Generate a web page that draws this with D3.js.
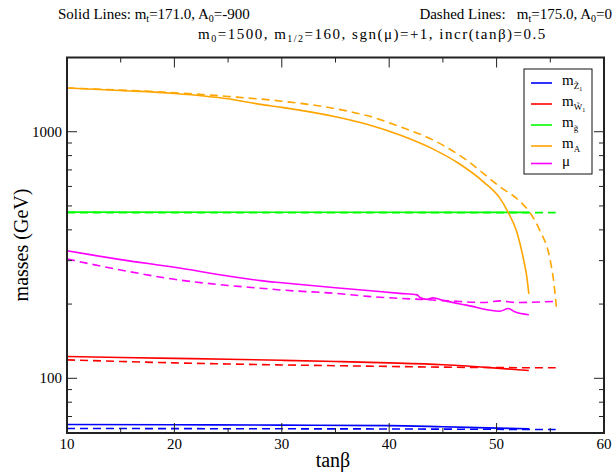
<!DOCTYPE html>
<html>
<head>
<meta charset="utf-8">
<script src="https://cdn.jsdelivr.net/npm/d3@7"></script>
<style>
  body { margin: 0; background: #fff; }
  svg { display: block; }
</style>
</head>
<body>
<div id="chart"></div>
<script>
// tanβ sample points and masses (GeV)
const z1SolidX = [10, 20, 30, 40, 45, 50, 53]
const z1SolidY = [65, 64.8, 64.6, 64.3, 63.6, 62.8, 62.4]
const z1DashX = [10, 20, 30, 40, 50, 55.5]
const z1DashY = [62.6, 62.5, 62.4, 62.3, 62.1, 62.0]

const w1SolidX = [10, 15, 20, 25, 30, 35, 40, 45, 50, 53]
const w1SolidY = [122.5, 121.5, 120.5, 119.5, 118.3, 117, 115.5, 113.5, 110, 107.5]
const w1DashX = [10, 15, 20, 25, 30, 35, 40, 45, 50, 55.5]
const w1DashY = [118.8, 117, 115.5, 114.3, 113.3, 112.5, 111.7, 111, 110.5, 110.3]

const glSolidX = [10, 30, 53]
const glSolidY = [472, 471.5, 471]
const glDashX = [10, 30, 55.5]
const glDashY = [470, 470, 470]

const mASolidX = [10, 15, 20, 25, 28, 30, 35, 38, 41, 44.1, 46.6, 48.8, 50.3, 51, 51.9, 52.5, 52.8, 53.0]
const mASolidY = [1505, 1470, 1430, 1360, 1291, 1255, 1150, 1070, 970, 850, 738, 625, 538, 478, 390, 305, 260, 220]
const mADashX = [10, 15, 20, 25, 30, 35, 38, 41, 44.1, 47.2, 50.3, 52, 53.1, 54, 55, 55.3, 55.6]
const mADashY = [1505, 1475, 1440, 1390, 1330, 1240, 1160, 1048, 925, 767, 598, 530, 470, 400, 300, 250, 188]

const muSolidX = [10, 12, 15, 20, 25, 28, 30, 35, 38, 41, 42.6, 42.9, 43.5, 44.1, 45, 47.2, 50.3, 51.1, 51.7, 53]
const muSolidY = [329, 318, 303, 282, 260, 249, 244, 233, 227, 221, 218, 212, 209, 212, 207, 198, 187, 192, 186, 181]
const muDashX = [10, 12, 15, 20, 25, 28, 30, 35, 38, 41, 42.9, 45.6, 48.8, 50.3, 51.9, 55.4]
const muDashY = [305, 292, 275, 252, 238, 232, 228, 221, 215, 211, 209, 206, 203, 206, 203, 205]

const xMajor = [10, 20, 30, 40, 50, 60]
const xMinor = [15, 25, 35, 45, 55]
const yMajor = [100, 1000]
const yMinor = [70, 80, 90, 200, 300, 400, 500, 600, 700, 800, 900]

const width = 613
const height = 472
const margin = {top: 57.5, right: 9, bottom: 39, left: 67}
const serif = "Liberation Serif, Times New Roman, DejaVu Serif, serif"

const svg = d3.select("#chart").append("svg")
    .attr("width", width)
    .attr("height", height)
    .attr("font-family", serif)

const x = d3.scaleLinear().domain([10, 60]).range([margin.left, width - margin.right])
const y = d3.scaleLog().domain([60, 2000]).range([height - margin.bottom, margin.top])

// series: colour, solid pair, dashed pair
const series = [
    {color: "#0000ff", sx: z1SolidX, sy: z1SolidY, dx: z1DashX, dy: z1DashY},
    {color: "#ff0000", sx: w1SolidX, sy: w1SolidY, dx: w1DashX, dy: w1DashY},
    {color: "#00ff00", sx: glSolidX, sy: glSolidY, dx: glDashX, dy: glDashY},
    {color: "#ffa500", sx: mASolidX, sy: mASolidY, dx: mADashX, dy: mADashY},
    {color: "#ff00ff", sx: muSolidX, sy: muSolidY, dx: muDashX, dy: muDashY}
]

const line = d3.line()
    .x(d => x(d[0]))
    .y(d => y(d[1]))
    .curve(d3.curveMonotoneX)

const plot = svg.append("g")
series.forEach(s => {
    plot.append("path")
        .datum(d3.zip(s.dx, s.dy))
        .attr("fill", "none")
        .attr("stroke", s.color)
        .attr("stroke-width", 1.6)
        .attr("stroke-dasharray", "8,5")
        .attr("d", line)
    plot.append("path")
        .datum(d3.zip(s.sx, s.sy))
        .attr("fill", "none")
        .attr("stroke", s.color)
        .attr("stroke-width", 1.6)
        .attr("d", line)
})

// axes: ticks point inward on all four sides
const x0 = margin.left, x1 = width - margin.right
const y0 = height - margin.bottom, y1 = margin.top
const tickColor = "#222"

function xTicks(vals, len) {
    vals.forEach(v => {
        svg.append("line").attr("x1", x(v)).attr("x2", x(v)).attr("y1", y0).attr("y2", y0 - len)
            .attr("stroke", tickColor).attr("stroke-width", 1)
        svg.append("line").attr("x1", x(v)).attr("x2", x(v)).attr("y1", y1).attr("y2", y1 + len)
            .attr("stroke", tickColor).attr("stroke-width", 1)
    })
}
function yTicks(vals, len) {
    vals.forEach(v => {
        svg.append("line").attr("x1", x0).attr("x2", x0 + len).attr("y1", y(v)).attr("y2", y(v))
            .attr("stroke", tickColor).attr("stroke-width", 1)
        svg.append("line").attr("x1", x1).attr("x2", x1 - len).attr("y1", y(v)).attr("y2", y(v))
            .attr("stroke", tickColor).attr("stroke-width", 1)
    })
}
xTicks(xMajor, 10)
xTicks(xMinor, 5)
yTicks(yMajor, 10)
yTicks(yMinor, 5)

svg.append("rect")
    .attr("x", x0).attr("y", y1)
    .attr("width", x1 - x0).attr("height", y0 - y1)
    .attr("fill", "none")
    .attr("stroke", "#222")
    .attr("stroke-width", 2)

svg.selectAll(".xlab").data(xMajor).join("text")
    .attr("x", d => x(d)).attr("y", y0 + 16)
    .attr("text-anchor", "middle")
    .attr("font-size", 15)
    .text(d => d)

svg.selectAll(".ylab").data(yMajor).join("text")
    .attr("x", x0 - 5).attr("y", d => y(d) + 5)
    .attr("text-anchor", "end")
    .attr("font-size", 15)
    .text(d => d)

// axis titles
svg.append("text")
    .attr("x", 333).attr("y", 467)
    .attr("text-anchor", "middle")
    .attr("font-size", 20)
    .text("tanβ")

svg.append("text")
    .attr("transform", "translate(28,245) rotate(-90)")
    .attr("text-anchor", "middle")
    .attr("font-size", 20)
    .text("masses (GeV)")

// header text with subscripts
function sub(t, s) { t.append("tspan").attr("baseline-shift", "-25%").attr("font-size", 10).text(s) }
function norm(t, s) { t.append("tspan").text(s) }

const h1 = svg.append("text").attr("x", 58).attr("y", 19).attr("font-size", 15)
norm(h1, "Solid Lines: m"); sub(h1, "t"); norm(h1, "=171.0, A"); sub(h1, "0"); norm(h1, "=-900")

const h2 = svg.append("text").attr("x", 612).attr("y", 19).attr("font-size", 15).attr("text-anchor", "end")
norm(h2, "Dashed Lines:\u00a0\u00a0 m"); sub(h2, "t"); norm(h2, "=175.0, A"); sub(h2, "0"); norm(h2, "=0")

const h3 = svg.append("text").attr("x", 198).attr("y", 39).attr("font-size", 15)
    .attr("letter-spacing", 1.5)
norm(h3, "m"); sub(h3, "0"); norm(h3, "=1500, m"); sub(h3, "1/2"); norm(h3, "=160, sgn(μ)=+1, incr(tanβ)=0.5")

// legend
const legendLabels = [
    {main: "m", s: "Z\u0303", ss: "1"},
    {main: "m", s: "W\u0303", ss: "1"},
    {main: "m", s: "g\u0303", ss: ""},
    {main: "m", s: "A", ss: ""},
    {main: "μ", s: "", ss: ""}
]
const legendRows = [83, 104, 125, 146, 163.5]

const legend = svg.append("g")
legend.append("rect")
    .attr("x", 524).attr("y", 69)
    .attr("width", 68).attr("height", 105)
    .attr("fill", "#fff")
    .attr("stroke", "#111")
    .attr("stroke-width", 1)

legendLabels.forEach((l, i) => {
    const ry = legendRows[i]
    legend.append("line")
        .attr("x1", 531).attr("x2", 552)
        .attr("y1", ry).attr("y2", ry)
        .attr("stroke", series[i].color)
        .attr("stroke-width", 1.6)
    const t = legend.append("text").attr("x", 562).attr("y", ry + 2).attr("font-size", 15)
    t.append("tspan").text(l.main)
    if (l.s) {
        t.append("tspan").attr("dy", 4).attr("font-size", 9).text(l.s)
        if (l.ss) t.append("tspan").attr("dy", 2).attr("font-size", 6).text(l.ss)
    }
})
</script>
</body>
</html>
